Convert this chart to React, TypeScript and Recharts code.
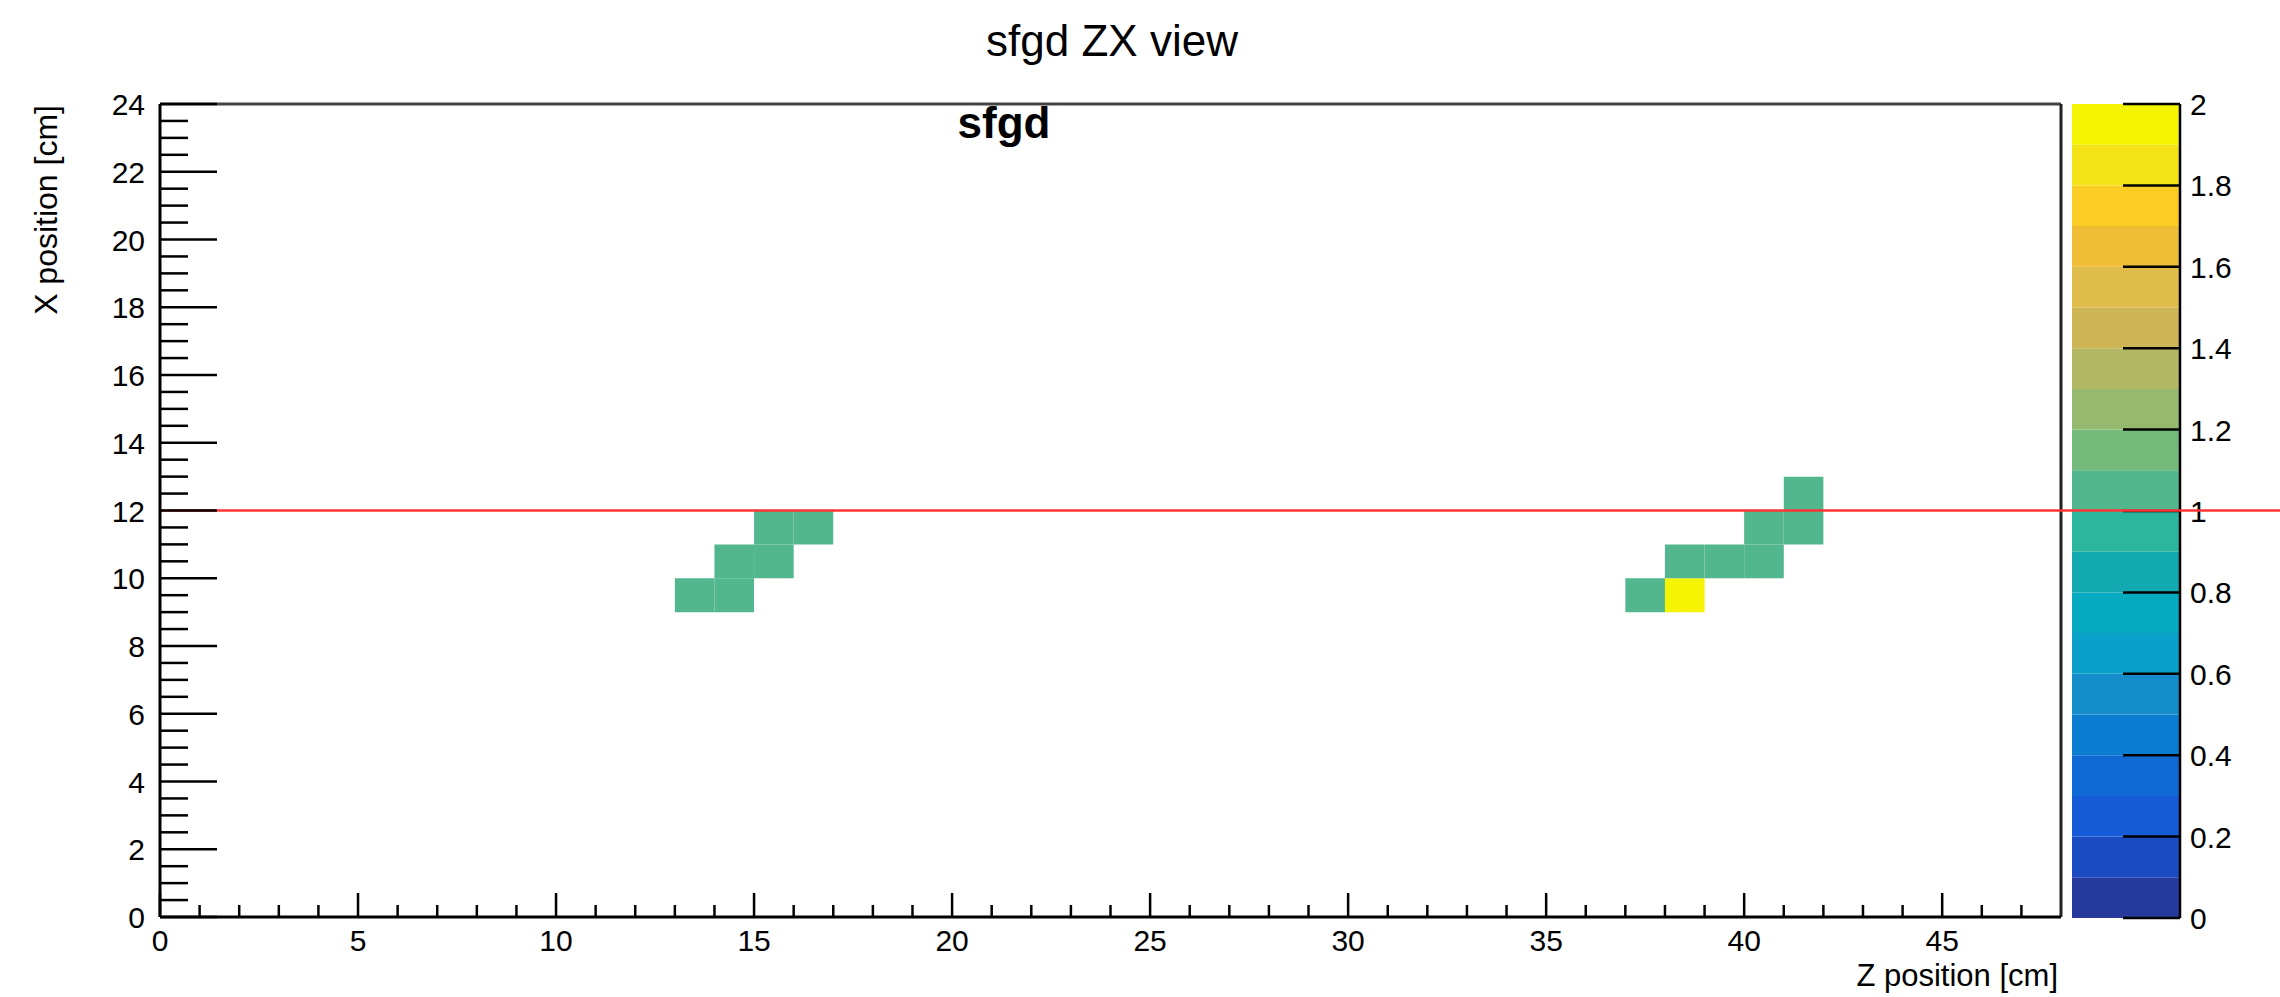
import React from 'react';
import { ComposedChart, XAxis, YAxis, ReferenceArea, ReferenceLine } from 'recharts';

// ---- data ----
const cellZ = [13, 14, 14, 15, 15, 16, 37, 38, 38, 39, 40, 40, 41, 41];
const cellX = [9, 9, 10, 10, 11, 11, 9, 9, 10, 10, 10, 11, 11, 12];
const cellValue = [1, 1, 1, 1, 1, 1, 1, 2, 1, 1, 1, 1, 1, 1];

const zMajorTicks = [0, 5, 10, 15, 20, 25, 30, 35, 40, 45];
const xMajorTicks = [0, 2, 4, 6, 8, 10, 12, 14, 16, 18, 20, 22, 24];
const colorbarTicks = [0, 0.2, 0.4, 0.6, 0.8, 1, 1.2, 1.4, 1.6, 1.8, 2];
const colorbarTickLabels = ['0', '0.2', '0.4', '0.6', '0.8', '1', '1.2', '1.4', '1.6', '1.8', '2'];

// 20-level palette, value 0 -> 2
const palette = [
  '#263a9e', '#1a4bc0', '#165bd8', '#106ad5', '#0a7dd0',
  '#158dcb', '#0aa0c9', '#05aac1', '#12aab0', '#2bb79d',
  '#52b68e', '#74ba7b', '#95b96e', '#b1b763', '#cdb455',
  '#e0bc4b', '#f0bd37', '#fbcc24', '#f4e316', '#f5f503',
];
const paletteMin = 0;
const paletteMax = 2;

const lineValue = 12; // red reference line (X position)
const lineZEnd = 54;

const Z_MAX = 48;
const X_MAX = 24;

const FONT = '"Liberation Sans", Arial, Helvetica, sans-serif';

// minor tick positions (every 1 cm on Z, every 0.5 cm on X)
const zAllTicks: number[] = [];
for (let i = 0; i < Z_MAX; i++) zAllTicks.push(i);
const xAllTicks: number[] = [];
for (let i = 0; i <= X_MAX * 2; i++) xAllTicks.push(i / 2);

const colorFor = (v: number) => {
  const n = palette.length;
  let b = Math.floor(((v - paletteMin) / (paletteMax - paletteMin)) * n + 1e-9);
  if (b >= n) b = n - 1;
  if (b < 0) b = 0;
  return palette[b];
};

const W = 2280;
const H = 997;
const PLOT_LEFT = 160;
const PLOT_RIGHT = 2061;
const PLOT_TOP = 104;
const PLOT_BOTTOM = 917;
const BAR_LEFT = 2072;
const BAR_RIGHT = 2180;

const ZTick = (props: any) => {
  const { x, y, payload } = props;
  const v = payload.value;
  const major = zMajorTicks.includes(v);
  return (
    <g>
      <line x1={x} x2={x} y1={y} y2={y - (major ? 24 : 12)} stroke="#000" strokeWidth={2.5} />
      {major && (
        <text x={x} y={y + 34} textAnchor="middle" fontSize={30} fontFamily={FONT} fill="#000">
          {v}
        </text>
      )}
    </g>
  );
};

const XTick = (props: any) => {
  const { x, y, payload } = props;
  const v = payload.value;
  const major = xMajorTicks.includes(v);
  return (
    <g>
      <line x1={x} x2={x + (major ? 57 : 28)} y1={y} y2={y} stroke="#000" strokeWidth={2.5} />
      {major && (
        <text x={x - 15} y={y + 11} textAnchor="end" fontSize={30} fontFamily={FONT} fill="#000">
          {v}
        </text>
      )}
    </g>
  );
};

const BarTick = (props: any) => {
  const { x, y, payload } = props;
  const idx = colorbarTicks.indexOf(payload.value);
  return (
    <g>
      <line x1={x - 57} x2={x} y1={y} y2={y} stroke="#000" strokeWidth={2.5} />
      <text x={x + 10} y={y + 11} textAnchor="start" fontSize={30} fontFamily={FONT} fill="#000">
        {idx >= 0 ? colorbarTickLabels[idx] : payload.value}
      </text>
    </g>
  );
};

export default function App() {
  const barBins = palette.map((c, i) => ({
    lo: paletteMin + ((paletteMax - paletteMin) * i) / palette.length,
    hi: paletteMin + ((paletteMax - paletteMin) * (i + 1)) / palette.length,
    color: c,
    u: 0.5,
  }));
  const cells = cellZ.map((z, i) => ({ z, x: cellX[i], v: cellValue[i] }));

  return (
    <div style={{ position: 'absolute', left: 0, top: 0, width: W, height: H, background: '#fff' }}>
      {/* colour bar */}
      <div style={{ position: 'absolute', left: 0, top: 0 }}>
        <ComposedChart
          width={W}
          height={H}
          data={barBins}
          margin={{ top: PLOT_TOP, bottom: H - PLOT_BOTTOM - 1, left: BAR_LEFT, right: W - BAR_RIGHT - 1 }}
        >
          <XAxis type="number" dataKey="u" domain={[0, 1]} hide allowDataOverflow />
          <YAxis
            type="number"
            dataKey="lo"
            orientation="right"
            domain={[paletteMin, paletteMax]}
            allowDataOverflow
            ticks={colorbarTicks}
            interval={0}
            width={1}
            tickSize={0}
            tickMargin={0}
            tickLine={false}
            axisLine={{ stroke: '#000', strokeWidth: 2.5 }}
            tick={BarTick}
          />
          {barBins.map((b, i) => (
            <ReferenceArea
              key={i}
              x1={0}
              x2={1}
              y1={b.lo}
              y2={b.hi}
              fill={b.color}
              fillOpacity={1}
              stroke="none"
              ifOverflow="visible"
            />
          ))}
        </ComposedChart>
      </div>

      {/* main histogram */}
      <div style={{ position: 'absolute', left: 0, top: 0 }}>
        <ComposedChart
          width={W}
          height={H}
          data={cells}
          margin={{ top: PLOT_TOP, bottom: H - PLOT_BOTTOM - 1, left: PLOT_LEFT - 1, right: W - PLOT_RIGHT }}
        >
          <XAxis
            type="number"
            dataKey="z"
            domain={[0, Z_MAX]}
            allowDataOverflow
            ticks={zAllTicks}
            interval={0}
            height={1}
            tickSize={0}
            tickMargin={0}
            tickLine={false}
            axisLine={{ stroke: '#000', strokeWidth: 3 }}
            tick={ZTick}
          />
          <YAxis
            type="number"
            dataKey="x"
            domain={[0, X_MAX]}
            allowDataOverflow
            ticks={xAllTicks}
            interval={0}
            width={1}
            tickSize={0}
            tickMargin={0}
            tickLine={false}
            axisLine={{ stroke: '#000', strokeWidth: 3 }}
            tick={XTick}
          />
          {cells.map((c, i) => (
            <ReferenceArea
              key={'c' + i}
              x1={c.z}
              x2={c.z + 1}
              y1={c.x}
              y2={c.x + 1}
              fill={colorFor(c.v)}
              fillOpacity={1}
              stroke="none"
            />
          ))}
          {/* frame top and right */}
          <ReferenceLine
            segment={[{ x: 0, y: X_MAX }, { x: Z_MAX, y: X_MAX }]}
            stroke="#444"
            strokeWidth={3}
            ifOverflow="visible"
          />
          <ReferenceLine
            segment={[{ x: Z_MAX, y: 0 }, { x: Z_MAX, y: X_MAX }]}
            stroke="#222"
            strokeWidth={3}
            ifOverflow="visible"
          />
          <ReferenceLine
            segment={[{ x: 0, y: lineValue }, { x: lineZEnd, y: lineValue }]}
            stroke="#ff3535"
            strokeWidth={2.5}
            ifOverflow="visible"
          />
        </ComposedChart>
      </div>

      {/* texts */}
      <svg
        width={W}
        height={H}
        style={{ position: 'absolute', left: 0, top: 0, pointerEvents: 'none' }}
      >
        <text x={1112} y={56} textAnchor="middle" fontSize={44} fontFamily={FONT} fill="#000">
          sfgd ZX view
        </text>
        <text x={1004} y={138} textAnchor="middle" fontSize={44} fontWeight="bold" fontFamily={FONT} fill="#000">
          sfgd
        </text>
        <text x={2058} y={986} textAnchor="end" fontSize={31} fontFamily={FONT} fill="#000">
          Z position [cm]
        </text>
        <text
          x={57}
          y={105}
          transform="rotate(-90 57 105)"
          textAnchor="end"
          fontSize={32}
          fontFamily={FONT}
          fill="#000"
        >
          X position [cm]
        </text>
      </svg>
    </div>
  );
}
